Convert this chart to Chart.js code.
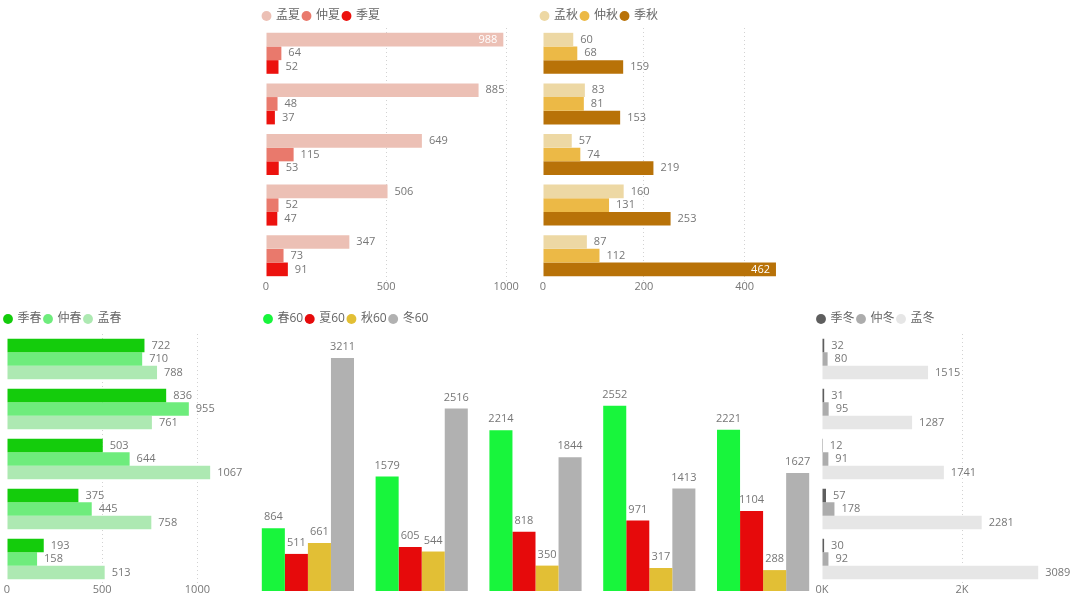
<!DOCTYPE html>
<html>
<head>
<meta charset="utf-8">
<script src="https://cdn.jsdelivr.net/npm/chart.js@4"></script>
<style>
html, body { margin: 0; padding: 0; background: #fff; width: 1080px; height: 605px; overflow: hidden; }
canvas { position: absolute; }
</style>
</head>
<body>
<canvas id="summer" width="261" height="297" style="left:260px;top:0px"></canvas>
<canvas id="autumn" width="252" height="297" style="left:538px;top:0px"></canvas>
<canvas id="spring" width="245" height="294" style="left:0px;top:306px"></canvas>
<canvas id="season60" width="569" height="291" style="left:251px;top:300px"></canvas>
<canvas id="winter" width="260" height="294" style="left:814px;top:306px"></canvas>
<script>
const groups = ['1', '2', '3', '4', '5'];

// 夏
const summerNames = ['孟夏', '仲夏', '季夏'];
const summerMeng = [988, 885, 649, 506, 347];
const summerZhong = [64, 48, 115, 52, 73];
const summerJi = [52, 37, 53, 47, 91];
const summerTicks = [0, 500, 1000];

// 秋
const autumnNames = ['孟秋', '仲秋', '季秋'];
const autumnMeng = [60, 83, 57, 160, 87];
const autumnZhong = [68, 81, 74, 131, 112];
const autumnJi = [159, 153, 219, 253, 462];
const autumnTicks = [0, 200, 400];

// 春
const springNames = ['季春', '仲春', '孟春'];
const springJi = [722, 836, 503, 375, 193];
const springZhong = [710, 955, 644, 445, 158];
const springMeng = [788, 761, 1067, 758, 513];
const springTicks = [0, 500, 1000];

// 冬
const winterNames = ['季冬', '仲冬', '孟冬'];
const winterJi = [32, 31, 12, 57, 30];
const winterZhong = [80, 95, 91, 178, 92];
const winterMeng = [1515, 1287, 1741, 2281, 3089];
const winterTicks = [0, 2000];

// 四季60
const season60Names = ['春60', '夏60', '秋60', '冬60'];
const spring60 = [864, 1579, 2214, 2552, 2221];
const summer60 = [511, 605, 818, 971, 1104];
const autumn60 = [661, 544, 350, 317, 288];
const winter60 = [3211, 2516, 1844, 1413, 1627];

const FONT = "'Open Sans', 'Noto Sans CJK SC', sans-serif";

// draw the numbers next to each bar
const valueLabels = {
    id: 'valueLabels',
    afterDatasetsDraw(chart) {
        const ctx = chart.ctx;
        const area = chart.chartArea;
        const horiz = chart.options.indexAxis === 'y';
        ctx.save();
        ctx.font = '11px ' + FONT;
        chart.data.datasets.forEach((ds, i) => {
            chart.getDatasetMeta(i).data.forEach((bar, j) => {
                const txt = String(ds.data[j]);
                const w = ctx.measureText(txt).width;
                if (horiz) {
                    ctx.textBaseline = 'middle';
                    if (bar.x + 7 + w > area.right) {
                        ctx.fillStyle = '#fff';
                        ctx.textAlign = 'right';
                        ctx.fillText(txt, bar.x - 6, bar.y);
                    } else {
                        ctx.fillStyle = '#777';
                        ctx.textAlign = 'left';
                        ctx.fillText(txt, bar.x + 7, bar.y);
                    }
                } else {
                    ctx.fillStyle = '#777';
                    ctx.textAlign = 'center';
                    ctx.textBaseline = 'middle';
                    ctx.fillText(txt, bar.x, bar.y - 11);
                }
            });
        });
        ctx.restore();
    }
};

// nudge the legend box without touching the plot area
const legendShift = {
    id: 'legendShift',
    afterLayout(chart, args, opts) {
        const lg = chart.legend;
        if (!lg) return;
        const dx = opts.dx || 0, dy = opts.dy || 0;
        lg.left += dx; lg.right += dx;
        lg.top += dy; lg.bottom += dy;
    }
};

const legendOpts = {
    align: 'start',
    labels: {
        usePointStyle: true,
        pointStyle: 'circle',
        boxWidth: 7,
        boxHeight: 7,
        padding: 3,
        color: '#666',
        font: { size: 12, family: FONT }
    }
};

function hbarChart(id, names, series, colors, xMax, xTicks, yWidth, padRight, shift, fmt) {
    return new Chart(document.getElementById(id), {
        type: 'bar',
        data: {
            labels: groups,
            datasets: series.map((d, i) => ({
                label: names[i],
                data: d,
                backgroundColor: colors[i],
                categoryPercentage: 0.81,
                barPercentage: 1
            }))
        },
        options: {
            indexAxis: 'y',
            responsive: false,
            animation: false,
            layout: { padding: { top: 3, right: padRight, bottom: 0, left: 0 } },
            plugins: {
                legend: legendOpts,
                tooltip: { enabled: false },
                legendShift: shift
            },
            scales: {
                x: {
                    min: 0,
                    max: xMax,
                    afterBuildTicks: s => { s.ticks = xTicks.map(v => ({ value: v })); },
                    afterFit: s => { s.height = 16; },
                    ticks: { padding: -1, color: '#777', font: { size: 11, family: FONT }, callback: fmt },
                    grid: {
                        drawTicks: false,
                        color: c => (c.tick && c.tick.value === 0) ? 'rgba(0,0,0,0)' : '#d2d2d2'
                    },
                    border: { display: false, dash: [1, 3] }
                },
                y: {
                    afterFit: s => { s.width = yWidth; },
                    ticks: { display: false },
                    grid: { display: false },
                    border: { display: false }
                }
            }
        },
        plugins: [valueLabels, legendShift]
    });
}

const plain = v => String(v);

hbarChart('summer', summerNames, [summerMeng, summerZhong, summerJi],
    ['#ecc0b5', '#e9796c', '#ec120e'], 1020, summerTicks, 6, 10, { dy: 4 }, plain);

hbarChart('autumn', autumnNames, [autumnMeng, autumnZhong, autumnJi],
    ['#edd8a4', '#ecb946', '#b87208'], 470, autumnTicks, 5, 10, { dy: 4 }, plain);

hbarChart('spring', springNames, [springJi, springZhong, springMeng],
    ['#14cc0c', '#6eec7c', '#ade9b2'], 1250, springTicks, 7, 0, { dx: 1.5, dy: 1 }, plain);

hbarChart('winter', winterNames, [winterJi, winterZhong, winterMeng],
    ['#5e5e5e', '#acacac', '#e6e6e6'], 3600, winterTicks, 8, 0, { dx: 0.5, dy: 1 }, v => (v / 1000) + 'K');

new Chart(document.getElementById('season60'), {
    type: 'bar',
    data: {
        labels: groups,
        datasets: [spring60, summer60, autumn60, winter60].map((d, i) => ({
            label: season60Names[i],
            data: d,
            backgroundColor: ['#18f53c', '#e60a0b', '#e2bf35', '#b1b1b1'][i],
            categoryPercentage: 0.81,
            barPercentage: 1
        }))
    },
    options: {
        responsive: false,
        animation: false,
        layout: { padding: { top: 12, right: 0, bottom: 0, left: 0 } },
        plugins: {
            legend: legendOpts,
            tooltip: { enabled: false },
            legendShift: { dx: 10.5, dy: -2 }
        },
        scales: {
            x: { display: false },
            y: { display: false, min: 0, max: 3500 }
        }
    },
    plugins: [valueLabels, legendShift]
});
</script>
</body>
</html>
